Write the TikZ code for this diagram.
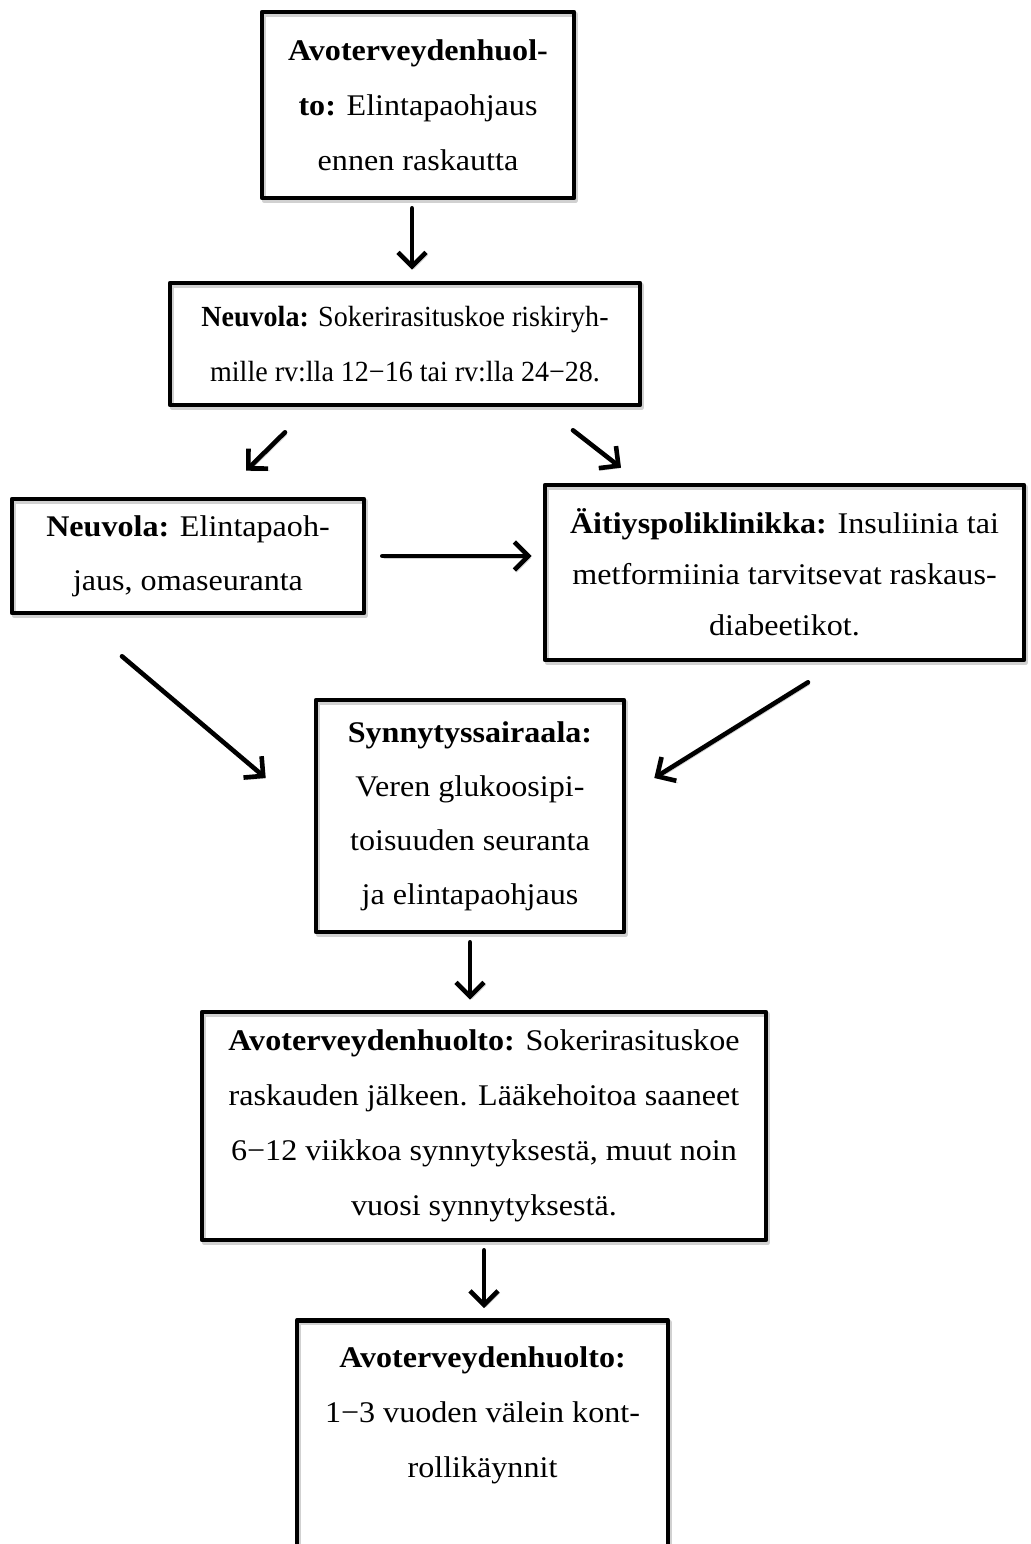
\documentclass[tikz,border=0pt]{standalone}
\usepackage{fontspec}
\setmainfont{Liberation Serif}
\newfontfamily\fwide[FakeStretch=1.07]{Liberation Serif}
\newfontfamily\fnarrow[FakeStretch=0.96]{Liberation Serif}
\usetikzlibrary{arrows.meta}
\begin{document}
\begin{tikzpicture}[x=0.5pt,y=-0.5pt,line join=round,line cap=round,
		shade/.style={preaction={draw=black!18,transform canvas={xshift=0.9pt,yshift=-1.1pt}}},
		box/.style={draw,shade,line width=2.3pt,align=center,inner sep=0pt},
		arr/.style={shade,line width=2.3pt,-{Straight Barb[length=7pt,width=14pt]}},
		txtwide/.style={font=\fwide\fontsize{15pt}{27.5pt}\selectfont}]
		\useasboundingbox (0,0) rectangle (1031,1544);
		\clip (0,0) rectangle (1031,1544);
		% Laatikot
		\node[box,txtwide,minimum width=156pt,minimum height=93pt] (avo1) at (418,105) {\textbf{Avoterveydenhuol-}\\\textbf{to:} Elintapaohjaus\\ennen raskautta};
		\node[box,minimum width=235pt,minimum height=61pt,font=\fnarrow\fontsize{14.6pt}{27.5pt}\selectfont] (neu1) at (405,344) {\textbf{Neuvola:} Sokerirasituskoe riskiryh-\\mille rv:lla 12−16 tai rv:lla 24−28.};
		\node[box,minimum width=176pt,minimum height=57pt,font=\fwide\fontsize{15pt}{27pt}\selectfont] (neu2) at (188,556) {\textbf{Neuvola:} Elintapaoh-\\jaus, omaseuranta};
		\node[box,minimum width=239.5pt,minimum height=87.5pt,font=\fwide\fontsize{15pt}{25.5pt}\selectfont] (aitiys) at (784.5,572.5) {\textbf{Äitiyspoliklinikka:} Insuliinia tai\\metformiinia tarvitsevat raskaus-\\diabeetikot.};
		\node[box,minimum width=154pt,minimum height=116pt,font=\fwide\fontsize{15pt}{27pt}\selectfont] (synny) at (470,816) {\textbf{Synnytyssairaala:}\\Veren glukoosipi-\\toisuuden seuranta\\ja elintapaohjaus};
		\node[box,txtwide,minimum width=282pt,minimum height=114pt] (avo2) at (484,1126) {\textbf{Avoterveydenhuolto:} Sokerirasituskoe\\raskauden jälkeen. Lääkehoitoa saaneet\\6−12 viikkoa synnytyksestä, muut noin\\vuosi synnytyksestä.};
		\node[box,txtwide,minimum width=185.5pt,anchor=north,text height=78.5pt,text depth=60pt] (avo3) at (482.5,1318) {\textbf{Avoterveydenhuolto:}\\1−3 vuoden välein kont-\\rollikäynnit};
		% Nuolet
		\draw[arr] ([shift={(-6,8)}]avo1.south) -- ([shift={(7,-11)}]neu1.north);
		\draw[arr] ([shift={(-120,25)}]neu1.south) -- ([shift={(58,-26)}]neu2.north);
		\draw[arr] ([shift={(168,23)}]neu1.south) -- ([shift={(-163.5,-15)}]aitiys.north);
		\draw[arr,shorten <=8pt,shorten >=5.5pt] (neu2.east) -- (neu2.east -| aitiys.west);
		\draw[arr] ([shift={(-66,41)}]neu2.south) -- ([shift={(-48,-38)}]synny.west);
		\draw[arr] ([shift={(23.5,20)}]aitiys.south) -- ([shift={(28,-38)}]synny.east);
		\draw[arr,shorten <=4pt,shorten >=5pt] (synny.south) -- (synny.south |- avo2.north);
		\draw[arr,shorten <=4pt,shorten >=5pt] (avo2.south) -- (avo2.south |- avo3.north);
\end{tikzpicture}
\end{document}
